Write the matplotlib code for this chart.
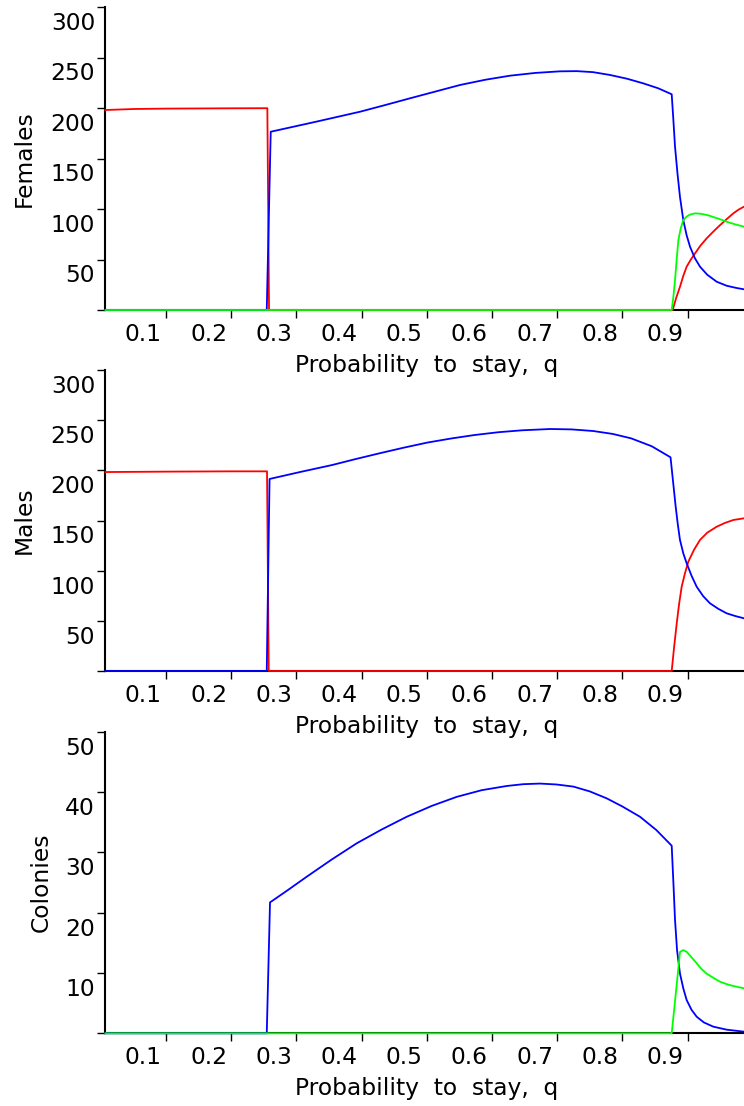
import matplotlib
matplotlib.use('Agg')
import matplotlib.pyplot as plt
from matplotlib import transforms

# ---- data ----
q_ticks = [0.1, 0.2, 0.3, 0.4, 0.5, 0.6, 0.7, 0.8, 0.9]
q_ticklabels = ['0.1', '0.2', '0.3', '0.4', '0.5', '0.6', '0.7', '0.8', '0.9']
q_range = (0.0064, 0.9865)

pop_ticks = [0, 50, 100, 150, 200, 250, 300]
col_ticks = [0, 10, 20, 30, 40, 50]

# Females
fem_red_q = [0.007, 0.05, 0.1, 0.2, 0.2554, 0.258, 0.8771, 0.8825, 0.8883,
             0.8935, 0.8986, 0.905, 0.9113, 0.92, 0.9293, 0.94, 0.9497,
             0.96, 0.9701, 0.978, 0.9865]
fem_red_n = [198.0, 199.0, 199.4, 199.7, 199.8, 0, 0, 12, 23,
             34, 43, 50, 56, 64, 71, 78, 84,
             90, 95.7, 99.3, 102.3]
fem_blue_q = [0.007, 0.2545, 0.2606, 0.33, 0.3975, 0.436, 0.4742, 0.5126,
              0.551, 0.59, 0.6276, 0.666, 0.704, 0.73, 0.755, 0.781, 0.807,
              0.832, 0.855, 0.8756, 0.878, 0.8807, 0.8845, 0.8883, 0.8934,
              0.8985, 0.9037, 0.911, 0.919, 0.93, 0.9446, 0.96, 0.975, 0.9865]
fem_blue_n = [0, 0, 176.5, 186.4, 196.3, 202.9, 209.6, 216.2,
              222.8, 228, 232, 234.7, 236.3, 236.5, 235.5, 232.7, 229,
              224.4, 219.5, 213.6, 190, 161.7, 135, 112, 89,
              74, 62.7, 51.5, 42.9, 35, 28, 24, 21.8, 20.5]
fem_green_q = [0.007, 0.8756, 0.878, 0.8807, 0.8832, 0.8858, 0.8895, 0.8934,
               0.8985, 0.9037, 0.9113, 0.92, 0.93, 0.9343, 0.947, 0.9599,
               0.973, 0.9865]
fem_green_n = [0, 0, 12, 29.7, 50, 69, 81, 89,
               92.5, 94.5, 95.7, 95.3, 94, 93.2, 90.5, 87.4,
               84.8, 82.5]

# Males
mal_red_q = [0.007, 0.1, 0.2, 0.2549, 0.2575, 0.8756, 0.8795, 0.8833, 0.887,
             0.8909, 0.896, 0.9011, 0.91, 0.919, 0.93, 0.9446, 0.957,
             0.9701, 0.9865]
mal_red_n = [198.3, 198.7, 199, 199, 0, 0, 25, 47.5, 67,
             84, 97.5, 109, 121, 130.6, 137.8, 143.8, 147.5,
             150.5, 152.2]
mal_blue_q = [0.007, 0.2545, 0.2588, 0.3068, 0.3548, 0.3912, 0.4276, 0.464,
              0.5003, 0.537, 0.5732, 0.61, 0.646, 0.6896, 0.722, 0.7551,
              0.785, 0.8133, 0.845, 0.8738, 0.8775, 0.8817, 0.885, 0.8883,
              0.8935, 0.8986, 0.906, 0.9139, 0.924, 0.9343, 0.947, 0.9599,
              0.973, 0.9865]
mal_blue_n = [0, 0, 191.4, 198.5, 205.3, 211.3, 217, 222.5,
              227.6, 231.7, 235.2, 238, 239.9, 241.2, 240.8, 239.2,
              236.3, 231.9, 224, 213, 190, 163.8, 146, 130.6,
              117, 107.3, 95, 84, 74.5, 67.5, 62, 57.5,
              54.8, 52.5]

# Colonies
col_blue_q = [0.007, 0.2545, 0.2595, 0.2876, 0.3158, 0.354, 0.3925, 0.431,
              0.4692, 0.5076, 0.5459, 0.584, 0.6225, 0.648, 0.6736, 0.699,
              0.7248, 0.75, 0.7759, 0.80, 0.827, 0.852, 0.8756, 0.8782,
              0.8807, 0.8838, 0.8883, 0.8935, 0.8986, 0.906, 0.9139, 0.925,
              0.9394, 0.96, 0.9865]
col_blue_n = [0, 0, 21.7, 23.8, 25.96, 28.8, 31.5, 33.8,
              35.9, 37.7, 39.2, 40.3, 41.0, 41.3, 41.4, 41.25,
              40.9, 40.1, 38.95, 37.6, 35.9, 33.7, 31.1, 25,
              18.8, 13.8, 9.9, 7.4, 5.5, 3.9, 2.75, 1.8,
              1.1, 0.6, 0.27]
col_green_q = [0.007, 0.8756, 0.882, 0.8883, 0.8934, 0.8986, 0.906, 0.9139,
               0.921, 0.929, 0.9394, 0.9497, 0.96, 0.9701, 0.9865]
col_green_n = [0, 0, 6.7, 13.5, 13.8, 13.5, 12.6, 11.6,
               10.7, 9.9, 9.2, 8.55, 8.15, 7.84, 7.46]

# ---- figure ----
plt.rcParams['font.family'] = ['DejaVu Sans']
FS = 16.8
W, H = 744.0, 1106.0
fig = plt.figure(figsize=(W / 100, H / 100), dpi=100)

panels = [
    # (top px, bottom px, ylabel, yticks, label x px, curves)
    (7, 310, 'Females', pop_ticks, 24,
     [(fem_red_q, fem_red_n, '#ff0000'), (fem_blue_q, fem_blue_n, '#0000ff'),
      (fem_green_q, fem_green_n, '#00ff00')]),
    (370, 671, 'Males', pop_ticks, 24,
     [(mal_red_q, mal_red_n, '#ff0000'), (mal_blue_q, mal_blue_n, '#0000ff')]),
    (731.7, 1033.3, 'Colonies', col_ticks, 41,
     [(col_blue_q, col_blue_n, '#0000ff'), (col_green_q, col_green_n, '#00ff00')]),
]

left_px = 105.0
for top, bot, ylab, yt, lab_x, curves in panels:
    ax = fig.add_axes([left_px / W, 1 - bot / H, (W - left_px) / W, (bot - top) / H])
    ax.patch.set_visible(False)
    for q, n, c in curves:
        ax.plot(q, n, color=c, lw=1.3, clip_on=False, zorder=3)

    ax.set_xlim(*q_range)
    ax.set_ylim(yt[0], yt[-1])
    for s in ['top', 'right']:
        ax.spines[s].set_visible(False)
    for s in ['left', 'bottom']:
        ax.spines[s].set_linewidth(1.5)
    ax.set_xticks(q_ticks)
    ax.set_yticks(yt)
    ax.set_xticklabels([])
    ax.set_yticklabels([])
    ax.tick_params(direction='out', length=5.5, width=1.0)

    # Maple style tick labels: sit below/left of their tick
    off_y = transforms.ScaledTranslation(-7.2 / 72, -16.5 / 72, fig.dpi_scale_trans)
    ytr = transforms.blended_transform_factory(ax.transAxes, ax.transData) + off_y
    for v in yt[1:]:
        ax.text(0, v, str(v), transform=ytr, ha='right', va='baseline', fontsize=FS)
    off_x = transforms.ScaledTranslation(-2.9 / 72, -22.0 / 72, fig.dpi_scale_trans)
    xtr = transforms.blended_transform_factory(ax.transData, ax.transAxes) + off_x
    for v, s in zip(q_ticks, q_ticklabels):
        ax.text(v, 0, s, transform=xtr, ha='right', va='baseline', fontsize=FS)

    off_l = transforms.ScaledTranslation(0, -62.0 / 100, fig.dpi_scale_trans)
    ltr = transforms.blended_transform_factory(ax.transData, ax.transAxes) + off_l
    ax.text(0.5, 0, 'Probability  to  stay,  q', transform=ltr,
            ha='center', va='baseline', fontsize=FS)

    ax.text((lab_x - left_px) / (W - left_px), 0.5, ylab, transform=ax.transAxes,
            rotation=90, ha='center', va='center', fontsize=FS)

fig.savefig('out.png', dpi=100)
